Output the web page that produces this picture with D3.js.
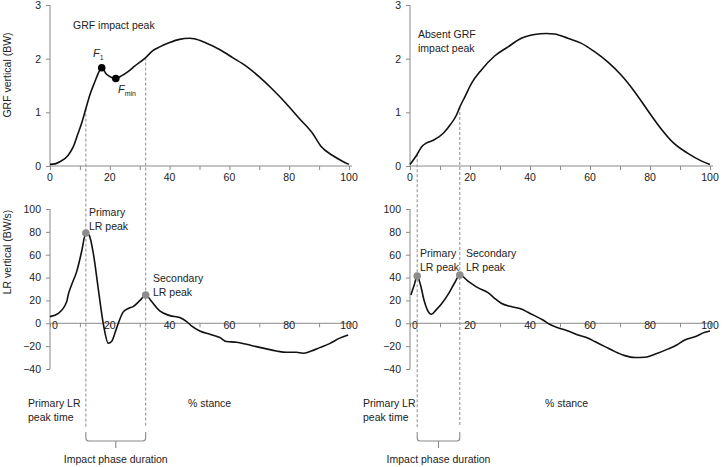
<!DOCTYPE html>
<html><head><meta charset="utf-8">
<script src="https://cdn.jsdelivr.net/npm/d3@7"></script>
<style>
body{margin:0;background:#fff;}
text{font-family:"Liberation Sans",Arial,sans-serif;fill:#222;}
</style></head>
<body><svg id="c" width="724" height="467"></svg>
<script>
// ---- data ----
const grfAX = [0,1.7,3.3,6.1,7.8,9.4,10.6,12,13.3,15,16.4,17.3,18.9,20.6,22,23.9,26.1,28.3,32,34.4,36.7,40,43.3,46.7,48.3,52.2,56.7,61.1,65.6,70,74.4,78.9,83.3,87.8,90.6,94.4,97.8,100];
const grfAY = [0.03,0.04,0.08,0.2,0.36,0.61,0.8,1.07,1.32,1.57,1.76,1.83,1.71,1.65,1.63,1.68,1.76,1.86,2.02,2.15,2.22,2.3,2.36,2.38,2.37,2.29,2.17,2.02,1.86,1.66,1.43,1.17,0.89,0.61,0.37,0.2,0.09,0.03];
const grfBX = [0,2.2,3.9,5.5,7.8,11.1,13.3,15.5,16.6,18.3,20.5,23.8,28.2,32.7,37.1,41.5,45.4,48.2,52.6,57,61.5,65.9,70.3,74.8,79.2,83.6,88,92.5,96.9,100];
const grfBY = [0.03,0.2,0.36,0.43,0.48,0.61,0.76,0.95,1.1,1.29,1.54,1.79,2.05,2.22,2.38,2.45,2.47,2.46,2.38,2.29,2.13,1.94,1.7,1.39,1.04,0.7,0.42,0.24,0.1,0.03];
const lrAX = [0,2.8,5.6,6.1,7.2,8.9,10.6,12,13.1,14.5,16.1,17.8,19.5,20.6,22.3,24.5,26.2,27.8,30.1,32,34,36.7,40.1,43.4,45.7,47.3,50.1,53.5,56.8,59,62.4,65.7,69,72.4,75.7,79,82.4,84.6,87.4,90.2,93.5,96.9,99.7];
const lrAY = [5.8,8.7,19,25,33.5,45,63,79,77,61,31,0,-17.5,-16,-4,10,13,14.6,20,24.8,19,10.8,6.7,5,1.5,-2.3,-6.7,-9.6,-12.5,-16,-16.6,-18.4,-20.4,-22.4,-24.2,-25.4,-25.4,-26.2,-24.2,-21.3,-17.8,-13,-10.2];
const lrBX = [0.3,1.4,2.4,3.5,4.8,6.5,7.2,8.7,10.4,12.6,14.8,16.6,19.3,22.6,26,28.2,30.4,33.7,37.1,39.3,41.5,44.3,46.5,49.3,52.7,56,59.4,61.6,65,68.3,71.6,74.9,78.3,81.6,86.1,88.9,91.6,95,98.3,100];
const lrBY = [24.8,33.5,41.4,33.5,19,8.7,7.9,11.7,16.6,24.8,35,42.3,37,31.2,26.8,21.9,17.5,14.6,12.5,9.6,6.7,2.9,-0.9,-3.8,-6.7,-10.2,-13.1,-16,-20.4,-24.8,-28.3,-30,-29.7,-27.1,-22.4,-19,-14.6,-11.7,-7.9,-6.7];
const peaksA = [[12,79],[32,24.8]];
const peaksB = [[2.4,41.4],[16.6,42.3]];
const fPoints = [[17.3,1.83],[22,1.63]];
const xTicks = [0,20,40,60,80,100];
const xMinor = [0,10,20,30,40,50,60,70,80,90,100];
const grfTicks = [0,1,2,3];
const lrTicks = [-40,-20,0,20,40,60,80,100];

// ---- layout ----
const svg = d3.select("#c");
const FS = "10.5px";
const panels = [
  {x: d3.scaleLinear([0,100],[50,349]), side:"L"},
  {x: d3.scaleLinear([0,100],[410,710]), side:"R"}
];
const yTop = d3.scaleLinear([0,3],[166,5]);
const yBot = d3.scaleLinear([-40,100],[369,209]);
const axisCol = "#8a8a8a";

function interp(xs, ys, v){
  for(let i=1;i<xs.length;i++){ if(xs[i]>=v){const t=(v-xs[i-1])/(xs[i]-xs[i-1]); return ys[i-1]+t*(ys[i]-ys[i-1]);} }
  return ys[ys.length-1];
}

function drawAxes(x, y, yTicks, fmtY, xAxisY, labelBaseline, zeroShift){
  const g = svg.append("g");
  // y axis
  const ya = d3.axisLeft(y).tickValues(yTicks).tickSize(4).tickPadding(5).tickFormat(fmtY);
  const gy = g.append("g").attr("transform",`translate(${x(0)},0)`).call(ya);
  gy.select(".domain").attr("stroke",axisCol).attr("d",`M-0,${y.range()[0]}V${y.range()[1]}`);
  gy.selectAll(".tick line").attr("stroke",axisCol);
  gy.selectAll(".tick text").style("font-size",FS).style("font-family","Liberation Sans, Arial").attr("fill","#222");
  // x axis line + minor ticks
  const xa = d3.axisBottom(x).tickValues(xMinor).tickSize(4).tickFormat("");
  const gx = g.append("g").attr("transform",`translate(0,${xAxisY})`).call(xa);
  gx.select(".domain").attr("stroke",axisCol).attr("d",`M${x(0)},0H${x(101)}`);
  gx.selectAll(".tick line").attr("stroke",axisCol);
  // labels
  g.selectAll(".xl").data(xTicks).join("text")
    .attr("x",d=>x(d)+(d===0?zeroShift:0)).attr("y",labelBaseline)
    .attr("text-anchor","middle").style("font-size",FS).text(d=>d);
}

const line = (x,y)=>d3.line().x(d=>x(d[0])).y(d=>y(d[1])).curve(d3.curveMonotoneX);

const zip = (a,b)=>a.map((v,i)=>[v,b[i]]);
const sets = [
  {grf: zip(grfAX,grfAY), lr: zip(lrAX,lrAY), peaks: peaksA},
  {grf: zip(grfBX,grfBY), lr: zip(lrBX,lrBY), peaks: peaksB}
];

panels.forEach((p,i)=>{
  const x = p.x, s = sets[i];
  drawAxes(x, yTop, grfTicks, d3.format("d"), yTop(0), 181, 0);
  drawAxes(x, yBot, lrTicks, d3.format("d"), yBot(0), 329, i===0?5:5);
  // dashed lines from GRF curve down to below
  s.peaks.forEach(pk=>{
    const gy = interp(s.grf.map(d=>d[0]), s.grf.map(d=>d[1]), pk[0]);
    svg.append("line").attr("x1",x(pk[0])).attr("x2",x(pk[0]))
      .attr("y1",yTop(gy)).attr("y2",427)
      .attr("stroke","#8a8a8a").attr("stroke-width",1).attr("stroke-dasharray","3,2");
  });
  svg.append("path").datum(s.grf).attr("d",line(x,yTop)).attr("fill","none").attr("stroke","#111").attr("stroke-width",1.6);
  svg.append("path").datum(s.lr).attr("d",line(x,yBot)).attr("fill","none").attr("stroke","#111").attr("stroke-width",1.6);
  svg.selectAll(null).data(s.peaks).join("circle")
    .attr("cx",d=>x(d[0])).attr("cy",d=>yBot(d[1])).attr("r",3.8).attr("fill","#8c8c8c");
  // bracket
  const x1 = x(s.peaks[0][0]), x2 = x(s.peaks[1][0]), xm=(x1+x2)/2;
  svg.append("path").attr("d",`M${x1},432 V438 Q${x1},441 ${x1+3},441 H${x2-3} Q${x2},441 ${x2},438 V432 M${xm},441 V448`)
    .attr("fill","none").attr("stroke","#8a8a8a").attr("stroke-width",1.1);
  svg.append("text").attr("x",xm).attr("y",463).attr("text-anchor","middle").style("font-size",FS).text("Impact phase duration");
  // % stance
  svg.append("text").attr("x",i===0?188:545).attr("y",407).style("font-size",FS).text("% stance");
  // Primary LR peak time
  const pt = svg.append("text").style("font-size",FS);
  pt.append("tspan").attr("x",i===0?28:363).attr("y",407).text("Primary LR");
  pt.append("tspan").attr("x",i===0?28:363).attr("y",421).text("peak time");
});

// F1 / Fmin dots
const xL = panels[0].x;
svg.selectAll(null).data(fPoints).join("circle")
  .attr("cx",d=>xL(d[0])).attr("cy",d=>yTop(d[1])).attr("r",3.8).attr("fill","#000");
const f1 = svg.append("text").attr("x",93).attr("y",57).style("font-size","11px");
f1.append("tspan").style("font-style","italic").text("F");
f1.append("tspan").attr("dy",3).style("font-size","7px").text("1");
const fm = svg.append("text").attr("x",118).attr("y",93).style("font-size","11px");
fm.append("tspan").style("font-style","italic").text("F");
fm.append("tspan").attr("dy",3).style("font-size","7px").text("min");

// annotations
function multi(xp, yp, lines){
  const t = svg.append("text").style("font-size",FS);
  lines.forEach((l,k)=>t.append("tspan").attr("x",xp).attr("y",yp+k*14).text(l));
}
multi(73, 29, ["GRF impact peak"]);
multi(418, 38, ["Absent GRF","impact peak"]);
multi(89, 216, ["Primary","LR peak"]);
multi(153, 282, ["Secondary","LR peak"]);
multi(420, 257, ["Primary","LR peak"]);
multi(466, 257, ["Secondary","LR peak"]);

// y axis titles
svg.append("text").attr("transform","translate(11,75) rotate(-90)").attr("text-anchor","middle").style("font-size",FS).text("GRF vertical (BW)");
svg.append("text").attr("transform","translate(11,252) rotate(-90)").attr("text-anchor","middle").style("font-size",FS).text("LR vertical (BW/s)");
</script></body></html>
